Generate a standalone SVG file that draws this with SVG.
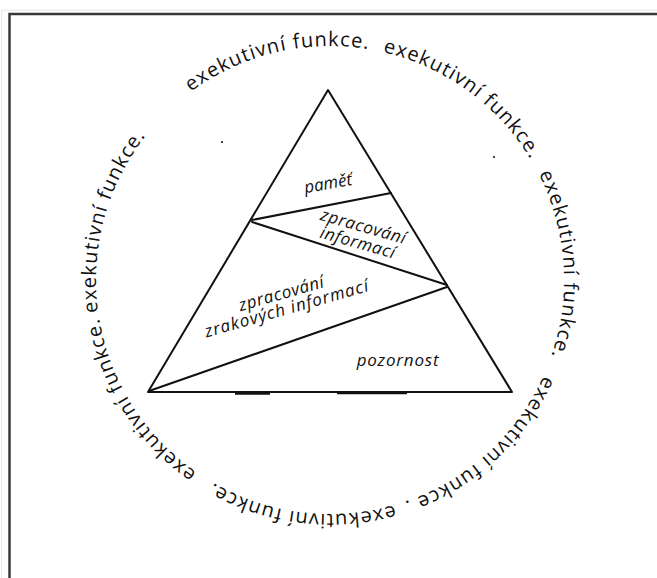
<svg xmlns="http://www.w3.org/2000/svg" width="657" height="578" viewBox="0 0 657 578">
  <style>
    .ring { font-family: "Open Sans", "Noto Sans", "DejaVu Sans", sans-serif; font-size: 20px; letter-spacing: 1.1px; fill: #111; }
    .lbl { font-family: "Open Sans", "Noto Sans", "DejaVu Sans", sans-serif; font-style: italic; font-size: 17px; fill: #111; text-anchor: middle; }
    .edge { stroke: #111; stroke-width: 2; fill: none; stroke-linecap: round; stroke-linejoin: round; }
  </style>
  <defs>
    <path id="ringPath" d="M 167.45,111.67 A 234,234 0 1 1 492.55,448.33 A 234,234 0 1 1 167.45,111.67"/>
  </defs>
  <rect x="0" y="0" width="657" height="578" fill="#fff"/>
  <g id="frame">
    <path d="M 1.7,578 L 1.7,10 L 657,10" fill="none" stroke="#e6e6e6" stroke-width="1"/>
    <path d="M 9.5,578 L 9.5,14 L 657,14" fill="none" stroke="#3a3a3a" stroke-width="2.5"/>
  </g>
  <g id="pyramid">
    <path class="edge" d="M 328,90 L 512,392 L 148,392 Z"/>
    <line x1="235" y1="393.5" x2="270" y2="393.5" stroke="#111" stroke-width="2.5"/>
    <line x1="337" y1="393" x2="407" y2="393" stroke="#111" stroke-width="2.5"/>
  </g>
  <g id="connectors">
    <line class="edge" x1="252" y1="220" x2="391" y2="193"/>
    <line class="edge" x1="252" y1="222" x2="447" y2="285"/>
    <line class="edge" x1="447" y1="287" x2="149" y2="391"/>
  </g>
  <g id="level-pamet">
    <text class="lbl" transform="translate(329,189) rotate(-10)" x="0" y="0">paměť</text>
  </g>
  <g id="level-zpracovani-informaci">
    <g transform="translate(362,232) rotate(16)">
      <text class="lbl" x="0" y="0" letter-spacing="0.6">zpracování</text>
      <text class="lbl" x="-1" y="17" letter-spacing="0.6">informací</text>
    </g>
  </g>
  <g id="level-zrakove-informace">
    <g transform="translate(283,299) rotate(-16)">
      <text class="lbl" x="0" y="0" letter-spacing="0.6">zpracování</text>
      <text class="lbl" x="1" y="16" letter-spacing="1">zrakových informací</text>
    </g>
  </g>
  <g id="level-pozornost">
    <text class="lbl" x="398" y="366" letter-spacing="0.8">pozornost</text>
  </g>
  <g id="ring">
    <text class="ring"><textPath href="#ringPath" startOffset="30.6">exekutivní funkce.</textPath></text>
    <text class="ring"><textPath href="#ringPath" startOffset="232.8">exekutivní funkce.</textPath></text>
    <text class="ring"><textPath href="#ringPath" startOffset="437">exekutivní funkce.</textPath></text>
    <text class="ring"><textPath href="#ringPath" startOffset="645.3">exekutivní funkce .</textPath></text>
    <text class="ring"><textPath href="#ringPath" startOffset="849.5">exekutivní funkce.</textPath></text>
    <text class="ring"><textPath href="#ringPath" startOffset="1056.1">exekutivní funkce.</textPath></text>
    <text class="ring"><textPath href="#ringPath" startOffset="1249.7">exekutivní funkce.</textPath></text>
  </g>
  <g id="specks" fill="#222">
    <circle cx="222" cy="142" r="1.1"/>
    <circle cx="494" cy="157" r="1.1"/>
  </g>
</svg>
